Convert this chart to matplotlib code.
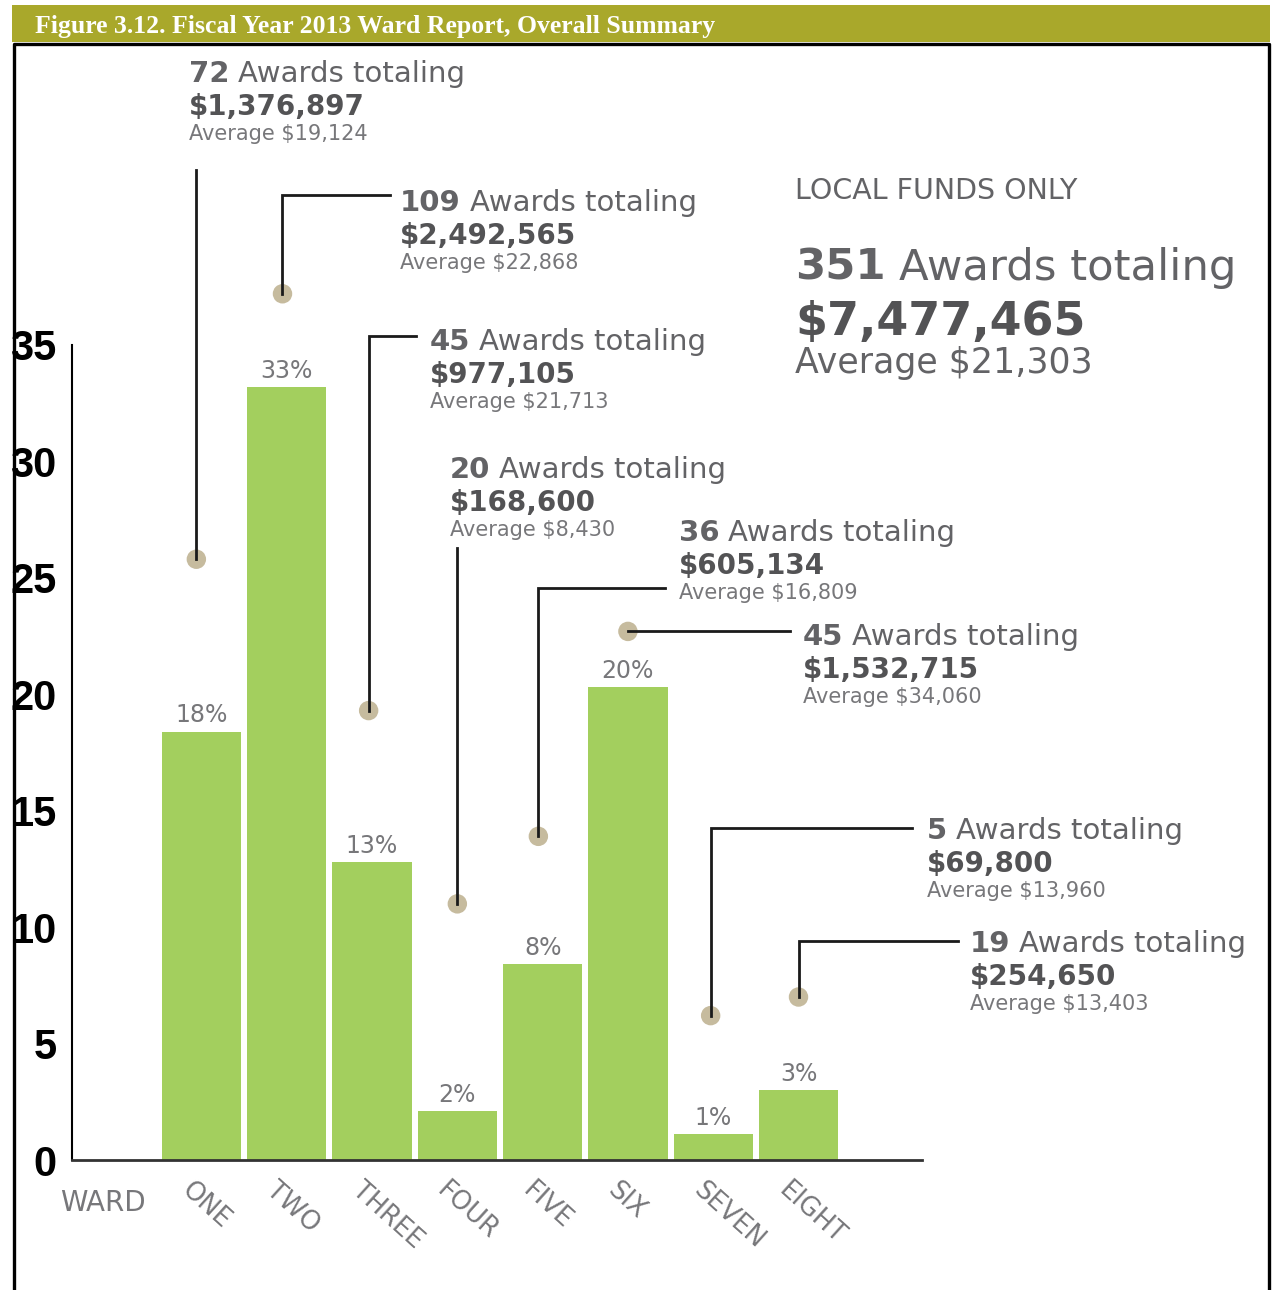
import matplotlib
matplotlib.use("Agg")
import matplotlib.pyplot as plt
from matplotlib.patches import Rectangle
from matplotlib.lines import Line2D
from matplotlib.transforms import ScaledTranslation

W, H, DPI = 1272, 1290, 100

# ---- data -------------------------------------------------------------
wards = ["ONE", "TWO", "THREE", "FOUR", "FIVE", "SIX", "SEVEN", "EIGHT"]
share_pct = [18.4, 33.2, 12.8, 2.1, 8.4, 20.3, 1.1, 3.0]
award_counts = [72, 109, 45, 20, 36, 45, 5, 19]
award_totals = ["$1,376,897", "$2,492,565", "$977,105", "$168,600",
                "$605,134", "$1,532,715", "$69,800", "$254,650"]
award_averages = ["$19,124", "$22,868", "$21,713", "$8,430",
                  "$16,809", "$34,060", "$13,960", "$13,403"]
marker_heights = [25.8, 37.2, 19.3, 11.0, 13.9, 22.7, 6.2, 7.0]
y_ticks = [0, 5, 10, 15, 20, 25, 30, 35]

total_awards = 351
total_amount = "$7,477,465"
total_average = "$21,303"

title = "Figure 3.12. Fiscal Year 2013 Ward Report, Overall Summary"

# ---- layout (pixels, measured from the top-left corner) ---------------
callout_pos = [(189, 82), (400, 211), (430, 350), (450, 478),
               (679, 541), (803, 645), (927, 839), (970, 952)]
leader_up = [170, 195, 336, 548, 588, None, 828, 941]
leader_right = [None, 390, 416, None, 665, 790, 912, 958]
marker_nudge = [-0.06, -0.05, -0.04, 0.0, -0.05, 0.0, -0.03, 0.0]

BAR_GREEN = "#a3cf5e"
TITLE_OLIVE = "#a9a82b"
DOT = "#c6bb9e"
DARK = "#535355"
MID = "#636366"
LIGHT = "#77777a"
SANS = ["DejaVu Sans"]

fig = plt.figure(figsize=(W / DPI, H / DPI), dpi=DPI)
fig.patch.set_facecolor("white")
renderer = fig.canvas.get_renderer()


def fx(px):
    return px / W


def fy(py):
    return 1 - py / H


# title band and frame
fig.add_artist(Rectangle((fx(12), fy(42)), fx(1270) - fx(12), fy(5) - fy(42),
                         transform=fig.transFigure, facecolor=TITLE_OLIVE,
                         edgecolor="none", zorder=0))
fig.text(fx(35), fy(33), title, color="white", fontsize=18.5,
         fontweight="bold", family=["Liberation Serif", "DejaVu Serif"],
         ha="left", va="baseline")
frame = Line2D([fx(14), fx(14), fx(1268.5), fx(1268.5)],
               [fy(1300), fy(43.5), fy(43.5), fy(1300)],
               transform=fig.transFigure, color="black", lw=2.4)
fig.add_artist(frame)

# ---- bar chart ----------------------------------------------------------
ax = fig.add_axes([fx(72), fy(1160), fx(922) - fx(72), fy(345) - fy(1160)])
x = list(range(len(wards)))
bars = ax.bar(x, share_pct, width=0.93, color=BAR_GREEN, edgecolor="none",
              zorder=2)
ax.set_xlim(-1.518, 8.448)
ax.set_ylim(0, 35)
for s in ("top", "right"):
    ax.spines[s].set_visible(False)
ax.spines["left"].set_linewidth(1.5)
ax.spines["left"].set_color("black")
ax.spines["bottom"].set_linewidth(2.0)
ax.spines["bottom"].set_color("#333333")
ax.spines["bottom"].set_zorder(3)

ax.set_yticks(y_ticks)
ax.tick_params(axis="y", length=0, pad=11, labelsize=30, labelcolor="black")
for lbl in ax.get_yticklabels():
    lbl.set_fontweight("bold")
    lbl.set_family(["Liberation Sans", "DejaVu Sans"])

ax.set_xticks(x)
ax.set_xticklabels(wards)
ax.tick_params(axis="x", length=0, pad=0, labelsize=18.5, labelcolor=LIGHT)
shift = ScaledTranslation(-8 / DPI, -17 / DPI, fig.dpi_scale_trans)
for lbl in ax.get_xticklabels():
    lbl.set_rotation(-42)
    lbl.set_rotation_mode("anchor")
    lbl.set_ha("left")
    lbl.set_va("top")
    lbl.set_family(SANS)
    lbl.set_transform(lbl.get_transform() + shift)

fig.text(fx(60), fy(1211), "WARD", color=LIGHT, fontsize=20, family=SANS,
         ha="left", va="baseline")

# percentage labels above the bars
for rect, v in zip(bars, share_pct):
    ax.annotate(f"{round(v)}%", (rect.get_x() + rect.get_width() / 2, v),
                xytext=(0, 3), textcoords="offset points", ha="center",
                va="bottom", fontsize=17, color=LIGHT, family=SANS)

# callout markers
mx = [xi + n for xi, n in zip(x, marker_nudge)]
ax.scatter(mx, marker_heights, s=14 ** 2, color=DOT, zorder=4, clip_on=False,
           edgecolors="none")


def runs(px, py, parts, size, color):
    """Write consecutive text pieces on one baseline."""
    cur = px
    gap = size * DPI / 72 * 0.3
    for txt, weight in parts:
        t = fig.text(fx(cur), fy(py), txt, fontsize=size, fontweight=weight,
                     color=color, family=SANS, ha="left", va="baseline")
        cur += t.get_window_extent(renderer).width + gap


fig.canvas.draw()
to_px = ax.transData
for i in range(len(wards)):
    dx, dy = to_px.transform((mx[i], marker_heights[i]))
    dyp = H - dy
    pts = [(dx, dyp)]
    if leader_up[i] is not None:
        pts.append((dx, leader_up[i]))
    if leader_right[i] is not None:
        pts.append((leader_right[i], pts[-1][1]))
    fig.add_artist(Line2D([fx(p[0]) for p in pts], [fy(p[1]) for p in pts],
                          transform=fig.transFigure, color="#1a1a1a",
                          lw=2.0, zorder=1, solid_joinstyle="miter"))

    cx, cy = callout_pos[i]
    runs(cx, cy, [(str(award_counts[i]), "bold"), ("Awards totaling", "normal")],
         21, MID)
    runs(cx, cy + 33, [(award_totals[i], "bold")], 20, DARK)
    runs(cx, cy + 58, [("Average " + award_averages[i], "normal")], 15, LIGHT)

# overall summary
runs(795, 199, [("LOCAL FUNDS ONLY", "normal")], 20.5, MID)
runs(795, 280, [(str(total_awards), "bold"), ("Awards totaling", "normal")],
     31.2, MID)
runs(795, 335, [(total_amount, "bold")], 33, DARK)
runs(795, 373, [("Average " + total_average, "normal")], 25, MID)

fig.savefig("out.png", dpi=DPI, facecolor="white")
